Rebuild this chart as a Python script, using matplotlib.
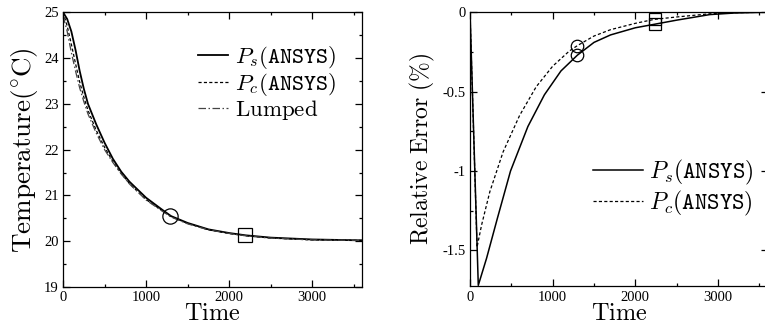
import matplotlib
matplotlib.use("Agg")
import matplotlib.pyplot as plt
from matplotlib.ticker import MultipleLocator

plt.rcParams['mathtext.fontset'] = 'cm'
plt.rcParams['font.family'] = ['Liberation Serif', 'DejaVu Serif']
plt.rcParams['axes.unicode_minus'] = False

# left panel: temperature histories
t_ps = [0, 50, 100, 150, 200, 250, 300, 400, 500, 600, 700, 800, 1000, 1200, 1300,
        1500, 1750, 2000, 2200, 2500, 3000, 3600]
temp_ps = [25.0, 24.85, 24.58, 24.18, 23.72, 23.33, 23.0, 22.55, 22.15, 21.8, 21.52,
           21.3, 20.95, 20.68, 20.55, 20.40, 20.26, 20.18, 20.13, 20.08, 20.04, 20.02]
temp_pc = [25.0, 24.7, 24.3, 23.88, 23.48, 23.15, 22.86, 22.42, 22.05, 21.74, 21.48,
           21.26, 20.91, 20.66, 20.54, 20.39, 20.25, 20.17, 20.12, 20.07, 20.03, 20.02]
temp_lumped = [24.92, 24.58, 24.12, 23.72, 23.35, 23.05, 22.78, 22.36, 22.0, 21.72,
               21.47, 21.25, 20.9, 20.65, 20.53, 20.38, 20.25, 20.17, 20.12, 20.07,
               20.03, 20.02]
mark_circle_left = (1290, 20.55)
mark_square_left = (2190, 20.13)

# right panel: relative error
t_err_s = [0, 100, 200, 330, 490, 700, 900, 1100, 1300, 1500, 1700, 2000, 2230,
           2500, 2900, 3200, 3600]
err_s = [0.0, -1.72, -1.55, -1.30, -1.0, -0.72, -0.52, -0.37, -0.27, -0.19, -0.143,
         -0.098, -0.076, -0.05, -0.015, -0.005, 0.0]
t_err_c = [0, 85, 140, 240, 400, 600, 800, 1000, 1200, 1300, 1500, 1700, 2000, 2230,
           2500, 2900, 3200, 3600]
err_c = [0.0, -1.48, -1.34, -1.13, -0.88, -0.65, -0.47, -0.34, -0.245, -0.21, -0.15,
         -0.11, -0.07, -0.045, -0.03, -0.01, -0.003, 0.0]
circle_t = 1300
square_t = 2234
circle_err = [-0.27, -0.21]
square_err = [-0.076, -0.042]

label_s = r'$P_s(\mathtt{ANSYS})$'
label_c = r'$P_c(\mathtt{ANSYS})$'

fig = plt.figure(figsize=(7.65, 3.30), dpi=100)
ax1 = fig.add_axes([0.0824, 0.130, 0.391, 0.833])
ax2 = fig.add_axes([0.6144, 0.132, 0.389, 0.831])

ax1.plot(t_ps, temp_ps, color='black', lw=1.3, label=label_s)
ax1.plot(t_ps, temp_pc, color='black', lw=0.9, dashes=(2.5, 1.8), label=label_c)
ax1.plot(t_ps, temp_lumped, color='#444444', lw=0.9, dashes=(6, 2, 1.2, 2),
         label=r'$\mathrm{Lumped}$')
ax1.plot(*mark_circle_left, marker='o', ms=11, mfc='none', mec='black', mew=0.9)
ax1.plot(*mark_square_left, marker='s', ms=10, mfc='none', mec='black', mew=0.9)
ax1.set_xlim(0, 3600)
ax1.set_ylim(19, 25)
ax1.xaxis.set_major_locator(MultipleLocator(1000))
ax1.xaxis.set_minor_locator(MultipleLocator(500))
ax1.yaxis.set_major_locator(MultipleLocator(1))
ax1.yaxis.set_minor_locator(MultipleLocator(0.5))
ax1.set_xlabel(r'$\mathrm{Time}$', fontsize=17.5, labelpad=0)
ax1.set_ylabel(r'$\mathrm{Temperature}(^{\circ}\mathrm{C})$', fontsize=19.5, labelpad=3)
ax1.legend(loc='upper left', bbox_to_anchor=(0.452, 0.885), frameon=False,
           fontsize=16.5, handlelength=1.3, handletextpad=0.3, labelspacing=0.0,
           borderaxespad=0, borderpad=0)

ax2.plot(t_err_s, err_s, color='black', lw=1.1, label=label_s)
ax2.plot(t_err_c, err_c, color='black', lw=0.9, dashes=(2.5, 1.8), label=label_c)
ax2.plot([circle_t] * 2, circle_err, ls='none', marker='o', ms=9, mfc='none',
         mec='black', mew=0.9)
ax2.plot([square_t] * 2, square_err, ls='none', marker='s', ms=8, mfc='none',
         mec='black', mew=0.9)
ax2.set_xlim(0, 3600)
ax2.set_ylim(-1.727, 0)
ax2.xaxis.set_major_locator(MultipleLocator(1000))
ax2.xaxis.set_minor_locator(MultipleLocator(500))
ax2.yaxis.set_minor_locator(MultipleLocator(0.25))
ax2.set_yticks([0, -0.5, -1, -1.5])
ax2.set_yticklabels(['0', '-0.5', '-1', '-1.5'])
ax2.set_xlabel(r'$\mathrm{Time}$', fontsize=17.5, labelpad=0)
ax2.set_ylabel(r'$\mathrm{Relative\ Error\ (\%)}$', fontsize=17, labelpad=4)
ax2.legend(loc='upper left', bbox_to_anchor=(0.414, 0.47), frameon=False,
           fontsize=17, handlelength=2.1, handletextpad=0.25, labelspacing=0.1,
           borderaxespad=0, borderpad=0)

for ax in (ax1, ax2):
    ax.tick_params(which='both', direction='in', top=True, right=True,
                   labelsize=10.5, pad=3, width=0.9)
    ax.tick_params(which='major', length=5)
    ax.tick_params(which='minor', length=2.5)
    for sp in ax.spines.values():
        sp.set_linewidth(0.9)

fig.savefig('out.png', dpi=100)
